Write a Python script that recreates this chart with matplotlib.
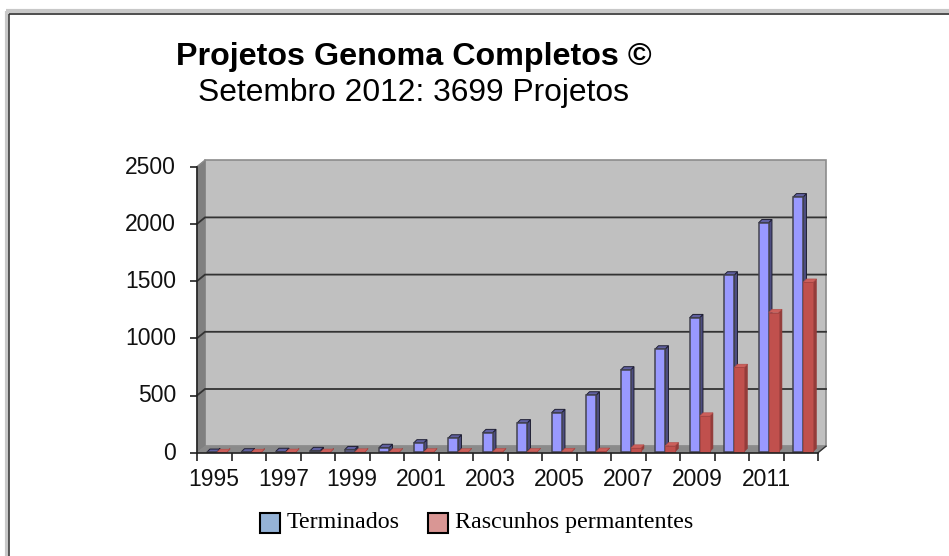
import matplotlib
matplotlib.use("Agg")
import matplotlib.pyplot as plt
from matplotlib.patches import Polygon, Rectangle
from matplotlib.transforms import ScaledTranslation

years = list(range(1995, 2013))
terminados = [3, 6, 10, 18, 26, 45, 85, 128, 175, 260, 350, 504, 723, 906, 1180, 1553, 2010, 2236]
rascunhos = [2, 2, 3, 3, 5, 5, 6, 6, 8, 8, 10, 12, 40, 60, 320, 745, 1225, 1490]
y_ticks = [0, 500, 1000, 1500, 2000, 2500]
x_labels = [1995, 1997, 1999, 2001, 2003, 2005, 2007, 2009, 2011]

W, H = 949, 556
fig = plt.figure(figsize=(W / 100, H / 100), dpi=100, facecolor="white")

# page frame
bg = fig.add_axes([0, 0, 1, 1], zorder=0)
bg.set_xlim(0, W); bg.set_ylim(H, 0); bg.axis("off")
bg.plot([7.5, 7.5], [H, 11], color="#c8c8c8", lw=3, solid_capstyle="butt")
bg.plot([6, W], [11, 11], color="#c8c8c8", lw=3, solid_capstyle="butt")
bg.plot([9.5, 9.5], [H, 13.5], color="#404040", lw=1.2, solid_capstyle="butt")
bg.plot([9, W], [13.5, 13.5], color="#303030", lw=1.2, solid_capstyle="butt")

L, R, T, B = 197, 818, 166.7, 452.7
ax = fig.add_axes([L / W, 1 - B / H, (R - L) / W, (B - T) / H], zorder=1)
ax.set_xlim(0, len(years))
ax.set_ylim(0, 2500)
ax.patch.set_alpha(0)
ppx = len(years) / (R - L)          # x data units per pixel
ppy = 2500 / (B - T)                # y data units per pixel
depth_x, depth_y = 8 * ppx, 6.5 * ppy
n = len(years)

# walls and floor
ax.add_patch(Polygon([(depth_x, depth_y), (n + depth_x, depth_y), (n + depth_x, 2500 + depth_y), (depth_x, 2500 + depth_y)],
                     fc="#c0c0c0", ec="#8c8c8c", lw=1.2, clip_on=False, zorder=1))
ax.add_patch(Polygon([(0, 0), (depth_x, depth_y), (depth_x, 2500 + depth_y), (0, 2500)],
                     fc="#808080", ec="#808080", lw=0.6, clip_on=False, zorder=1.1))
ax.add_patch(Polygon([(0, 0), (n, 0), (n + depth_x, depth_y), (depth_x, depth_y)],
                     fc="#8a8a8a", ec="#8a8a8a", lw=0.6, clip_on=False, zorder=1.1))
for v in y_ticks[1:-1]:
    ax.plot([0, depth_x, n + depth_x], [v, v + depth_y, v + depth_y], color="#333333", lw=1.3,
            clip_on=False, zorder=1.2, solid_joinstyle="miter")
ax.plot([0, depth_x], [2500, 2500 + depth_y], color="#8c8c8c", lw=1, clip_on=False, zorder=1.2)

# bars
bw = 10 * ppx
bd_x, bd_y = 3.3 * ppx, 3.3 * ppy
base = 1 * ppy
for i, (a, b) in enumerate(zip(terminados, rascunhos)):
    x0 = i + 0.57
    x1 = x0 - bw
    zb = 3 + i * 0.01
    # blue (left) bar
    ax.add_patch(Polygon([(x0, base), (x0 + bd_x, base + bd_y), (x0 + bd_x, a + bd_y), (x0, a)],
                         fc="#4d4d80", ec="#1f1f33", lw=0.7, zorder=zb, clip_on=False))
    ax.add_patch(Polygon([(x1, a), (x0, a), (x0 + bd_x, a + bd_y), (x1 + bd_x, a + bd_y)],
                         fc="#6060a0", ec="#1f1f33", lw=0.7, zorder=zb, clip_on=False))
    ax.add_patch(Rectangle((x1, base), bw, max(a - base, 0.1),
                           fc="#9999ff", ec="#44444f", lw=1.1, zorder=zb, clip_on=False))
    # red (right) bar, in front of the blue bar's side
    ax.add_patch(Polygon([(x0 + bw, base), (x0 + bw + bd_x, base + bd_y), (x0 + bw + bd_x, b + bd_y), (x0 + bw, b)],
                         fc="#943c3a", ec="#943c3a", lw=0.4, zorder=zb + 0.1, clip_on=False))
    ax.add_patch(Polygon([(x0, b), (x0 + bw, b), (x0 + bw + bd_x, b + bd_y), (x0 + bd_x, b + bd_y)],
                         fc="#cc5f5b", ec="#b04a46", lw=0.4, zorder=zb + 0.1, clip_on=False))
    ax.add_patch(Rectangle((x0, base), bw, b - base if b > base else 0.1,
                           fc="#c0504d", ec="#a84543", lw=0.7, zorder=zb + 0.1, clip_on=False))

# axes lines and ticks
for s in ("top", "right"):
    ax.spines[s].set_visible(False)
for s in ("left", "bottom"):
    ax.spines[s].set_color("#222222")
    ax.spines[s].set_linewidth(1.2)
    ax.spines[s].set_zorder(6)
ax.plot([n, n + depth_x], [0, depth_y], color="#333333", lw=1, clip_on=False, zorder=6)
ax.set_yticks(y_ticks)
ax.set_xticks(range(n + 1))
ax.tick_params(axis="y", length=5, width=1.2, color="#222222", labelsize=16.5, pad=10, labelcolor="#111111")
ax.tick_params(axis="x", length=6, width=1.2, color="#222222", direction="out", bottom=True, labelbottom=False)
for i, lab in enumerate(x_labels):
    ax.annotate(str(lab), (2 * i + 0.5, 0), xytext=(0, -27), textcoords="offset pixels", ha="center",
                va="center", fontsize=16.5, color="#111111", family="Liberation Sans")
shift_up = ScaledTranslation(0, 2 / 100, fig.dpi_scale_trans)
for t in ax.get_yticklabels():
    t.set_family("Liberation Sans")
    t.set_transform(t.get_transform() + shift_up)

# titles
bg.text(414, 57, "Projetos Genoma Completos \u00a9", ha="center", va="center", fontsize=23.2,
        fontweight="bold", family="Liberation Sans", color="black")
bg.text(414, 93, "Setembro 2012: 3699 Projetos", ha="center", va="center", fontsize=22.9,
        family="Liberation Sans", color="black")

# legend
bg.add_patch(Rectangle((260.5, 512.5), 19.5, 20, fc="#95b3d7", ec="black", lw=1.5, zorder=3))
bg.text(287, 528, "Terminados", ha="left", va="baseline", fontsize=17.3, family="Liberation Serif", color="black")
bg.add_patch(Rectangle((428.5, 512.5), 19.5, 20, fc="#d99694", ec="black", lw=1.5, zorder=3))
bg.text(455, 528, "Rascunhos permantentes", ha="left", va="baseline", fontsize=17.3, family="Liberation Serif", color="black")

fig.savefig("out.png", dpi=100)
